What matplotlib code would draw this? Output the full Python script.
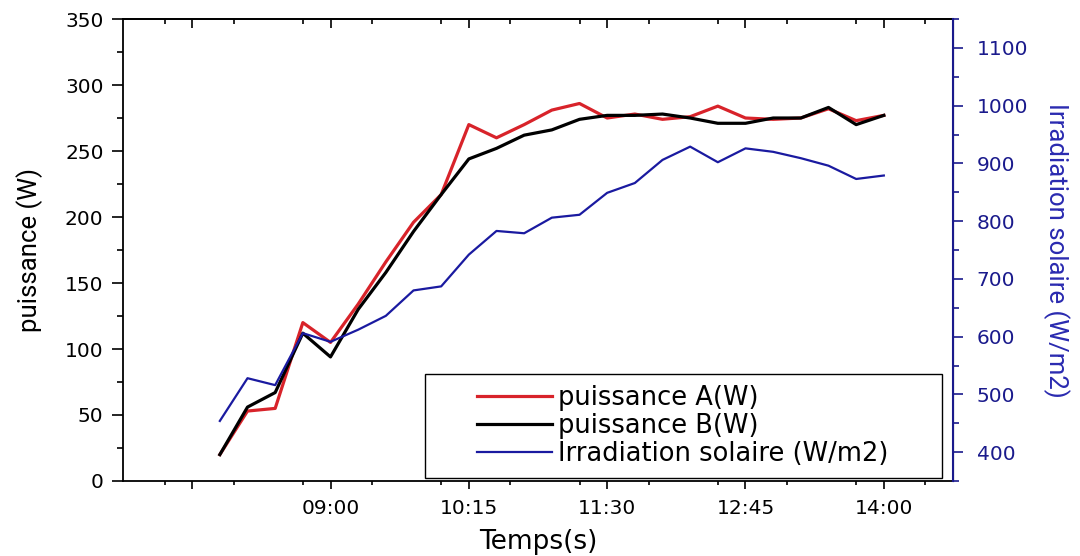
"""
Puissance A / B et irradiation solaire en fonction du temps.
"""
import matplotlib
matplotlib.use("Agg")
import matplotlib.pyplot as plt
from matplotlib.patches import Rectangle
from matplotlib.ticker import MultipleLocator, FixedLocator

plt.rcParams['font.family'] = ['DejaVu Sans']

# DATA
#####################
temps = ["08:00", "08:15", "08:30", "08:45", "09:00", "09:15", "09:30", "09:45",
         "10:00", "10:15", "10:30", "10:45", "11:00", "11:15", "11:30", "11:45",
         "12:00", "12:15", "12:30", "12:45", "13:00", "13:15", "13:30", "13:45",
         "14:00"]
puissance_A = [20, 53, 55, 120, 105, 134, 166, 196, 217, 270, 260, 270, 281,
               286, 275, 278, 274, 276, 284, 275, 274, 275, 282, 273, 277]
puissance_B = [20, 56, 67, 112, 94, 130, 158, 189, 217, 244, 252, 262, 266,
               274, 277, 277, 278, 275, 271, 271, 275, 275, 283, 270, 277]
irradiation = [454, 528, 516, 606, 591, 612, 636, 680, 687, 742, 783, 779, 806,
               811, 849, 866, 906, 929, 902, 926, 920, 909, 896, 873, 879]

tick_labels = ["", "09:00", "10:15", "11:30", "12:45", "14:00"]


def to_min(s):
    h, m = s.split(":")
    return int(h) * 60 + int(m)


x = [to_min(t) for t in temps]
major_x = [to_min("07:45") + 75 * k for k in range(len(tick_labels))]

# PLOT
#####################
fig = plt.figure(figsize=(10.8, 5.56), dpi=100)
ax = fig.add_axes([0.1139, 0.1349, 0.7685, 0.8309])
ax2 = ax.twinx()

navy = '#1a1a8c'
l1, = ax.plot(x, puissance_A, color='#d8232a', lw=2.3, label='puissance A(W)')
l2, = ax.plot(x, puissance_B, color='black', lw=2.3, label='puissance B(W)')
l3, = ax2.plot(x, irradiation, color='#1a1aa0', lw=1.6,
               label='Irradiation solaire (W/m2)')

# axes limits / ticks
ax.set_xlim(to_min("07:07") + 0.5, to_min("14:37") + 0.5)
ax.set_ylim(0, 350)
ax2.set_ylim(350, 1150)

ax.xaxis.set_major_locator(FixedLocator(major_x))
ax.set_xticklabels(tick_labels)
ax.xaxis.set_minor_locator(MultipleLocator(37.5))
ax.yaxis.set_major_locator(MultipleLocator(50))
ax.yaxis.set_minor_locator(MultipleLocator(25))
ax2.yaxis.set_major_locator(MultipleLocator(100))
ax2.yaxis.set_minor_locator(FixedLocator(range(350, 1151, 100)))

ax.tick_params(axis='y', which='major', direction='out', length=8, width=1.2,
               labelsize=14.5, pad=6)
ax.tick_params(axis='y', which='minor', direction='out', length=4.5, width=1.2)
ax.tick_params(axis='x', which='major', direction='out', length=6, width=1.2,
               labelsize=14.5, pad=7)
ax.tick_params(axis='x', which='minor', direction='out', length=3, width=1.2)

# top axis: inward ticks, no labels
top = ax.secondary_xaxis('top')
top.xaxis.set_major_locator(FixedLocator(major_x))
top.xaxis.set_minor_locator(MultipleLocator(37.5))
top.tick_params(axis='x', which='major', direction='in', length=6.5, width=1.2,
                labeltop=False)
top.tick_params(axis='x', which='minor', direction='in', length=3.5, width=1.2)
top.spines['top'].set_linewidth(1.3)

ax2.tick_params(axis='y', which='major', direction='out', length=7, width=1.2,
                colors=navy, labelsize=14.5, pad=10)
ax2.tick_params(axis='y', which='minor', direction='out', length=4, width=1.2,
                colors=navy)

for s in ['left', 'bottom', 'top']:
    ax.spines[s].set_linewidth(1.3)
for s in ['left', 'bottom', 'top']:
    ax2.spines[s].set_visible(False)
ax2.spines['right'].set_color(navy)
ax2.spines['right'].set_linewidth(1.5)

ax.set_xlabel('Temps(s)', fontsize=19, labelpad=8)
ax.set_ylabel('puissance (W)', fontsize=18.5, labelpad=16, family='Roboto')
ax2.set_ylabel('Irradiation solaire (W/m2)', fontsize=18.5, color='#2a2ab0',
               rotation=-90, labelpad=30, family='Roboto')

# legend, with its box drawn separately (wide left margin as in the original)
ax.add_patch(Rectangle((0.364, 0.0065), 0.623, 0.225, transform=ax.transAxes,
                       facecolor='white', edgecolor='black', lw=1.0, zorder=4))
leg = ax.legend(handles=[l1, l2, l3], loc='center left',
                bbox_to_anchor=(477 / 1080, 1 - 426 / 556),
                bbox_transform=fig.transFigure, borderaxespad=0, borderpad=0,
                fontsize=18.5, frameon=False, handlelength=2.9,
                handletextpad=0.25, labelspacing=0.06)
leg.set_zorder(5)

fig.savefig('out.png', dpi=100)
